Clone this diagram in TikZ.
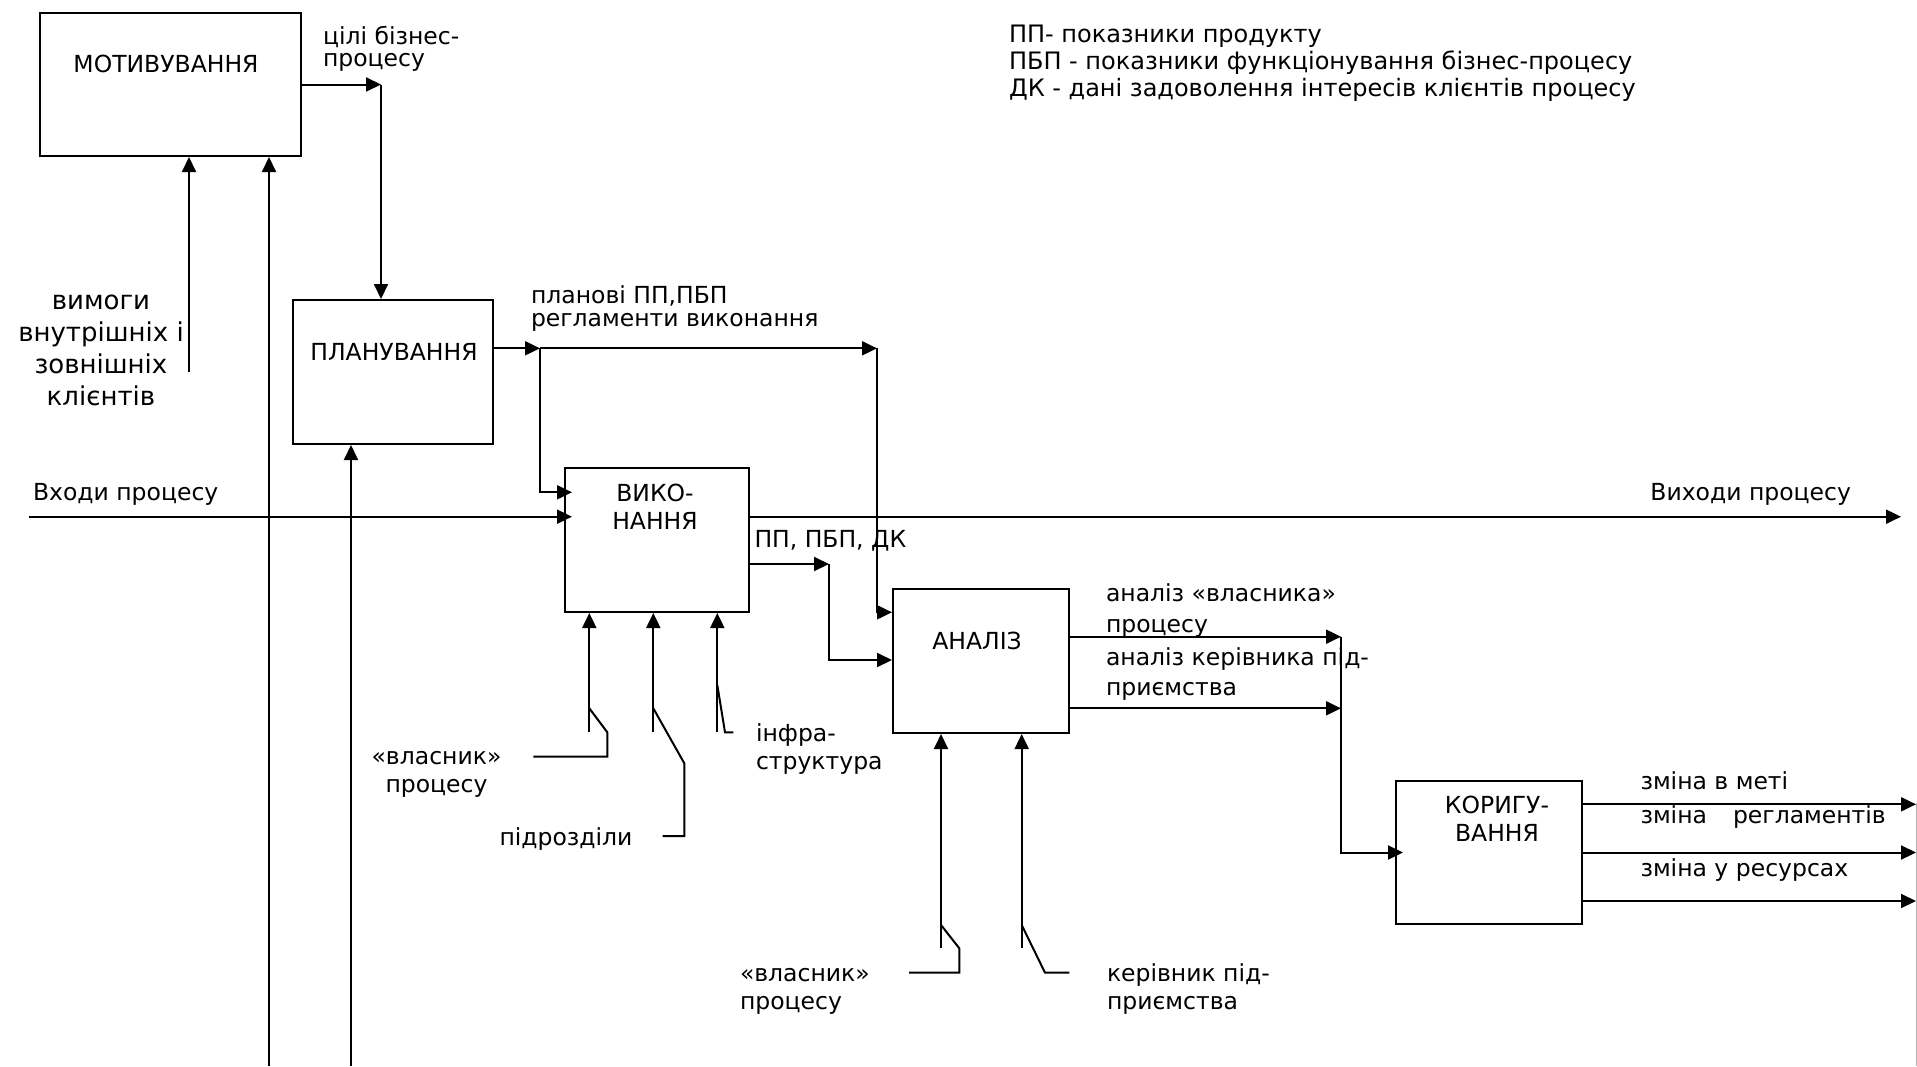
\documentclass[tikz,border=0pt]{standalone}
\usepackage{fontspec}
\setmainfont{DejaVu Sans}
\usetikzlibrary{arrows.meta,positioning}

\begin{document}
\begin{tikzpicture}[x=0.5pt,y=-0.5pt,line width=1pt,
  every node/.style={font=\fontsize{11.75pt}{14pt}\selectfont,inner sep=0pt},
  box/.style={draw,line width=1pt,minimum height=72pt},
  arr/.style={-{Triangle[length=7.5pt,width=7pt]}},
  into/.style={shorten >=-4pt}]
\useasboundingbox (0,0) rectangle (1917,1066);

\node[box,minimum width=130.5pt,minimum height=71.5pt] (motiv) at (170.5,84.5) {};
\node[box,minimum width=100pt] (plan) at (393,372) {};
\node[box,minimum width=92pt] (vyko) at (657,540) {};
\node[box,minimum width=88pt] (analiz) at (981,661) {};
\node[box,minimum width=93pt,minimum height=71.5pt] (korig) at (1489,852.5) {};

\node (motivtxt) at (166,64) {МОТИВУВАННЯ};
\node (plantxt) at (394,352) {ПЛАНУВАННЯ};
\node[align=center] (vykotxt) at (655,507) {ВИКО-\\НАННЯ};
\node (analiztxt) at (977,641) {АНАЛІЗ};
\node[align=center] (korigtxt) at (1497,819) {КОРИГУ-\\ВАННЯ};

\node[anchor=west,align=left,font=\fontsize{12pt}{13.5pt}\selectfont] (legend) at (1008,63.5) {ПП- показники продукту\\ПБП - показники функціонування бізнес-процесу\\ДК - дані задоволення інтересів клієнтів процесу};
\node[anchor=west,align=left] (goals) at (322,49) {цілі бізнес-\\[-3pt]процесу};
\node[align=center,font=\fontsize{13pt}{16pt}\selectfont] (req) at (101,350) {вимоги\\внутрішніх і\\зовнішніх\\клієнтів};
\node[anchor=west,align=left] (plans) at (530,309) {планові ПП,ПБП\\[-2.5pt]регламенти виконання};
\node[anchor=west] (inputs) at (32,494) {Входи процесу};
\node[anchor=east] (outputs) at (1852,494) {Виходи процесу};
\node[anchor=west] (kpi) at (753.5,540.5) {ПП, ПБП, ДК};
\node[align=center] (owner) at (436.5,774) {«власник»\\процесу};
\node[anchor=east] (units) at (633.5,839) {підрозділи};
\node[anchor=west,align=left] (infra) at (755,749) {інфра-\\структура};
\node[anchor=west,align=left] (anowner) at (1105,610.5) {аналіз «власника»\\[1.5pt]процесу};
\node[anchor=west,align=left] (anhead) at (1105,674.5) {аналіз керівника під-\\[1pt]приємства};
\node[anchor=west,align=left] (owner2) at (739,991) {«власник»\\процесу};
\node[anchor=west,align=left] (head) at (1106,989.5) {керівник під-\\приємства};
\node[anchor=west] (chgoal) at (1639.5,780.5) {зміна в меті};
\node[anchor=west] (chrules) at (1639.5,817) {зміна\hspace{13pt}регламентів};
\node[anchor=west] (chres) at (1639.5,870) {зміна у ресурсах};

\coordinate (g1) at (381,84.5);
\coordinate (r1) at (189,372);
\coordinate (fb1) at (269,1066);
\coordinate (fb2) at (351,1066);
\coordinate (p1) at (540,348.3);
\coordinate (p2) at (877,348.3);
\coordinate (in) at (29,516.7);
\coordinate (out) at (1901,516.7);
\coordinate (v1) at (829,564);
\coordinate (a1) at (1341,636.7);
\coordinate (a2) at (1341,708.3);
\coordinate (k1) at (1916,804.3);
\coordinate (k2) at (1916,852.5);
\coordinate (k3) at (1916,901);
\coordinate (c1) at (589.3,732.3);
\coordinate (c2) at (653.3,732.3);
\coordinate (c3) at (717.3,732.3);
\coordinate (c4) at (941,948.3);
\coordinate (c5) at (1021.7,948.3);
\coordinate (edge) at (1916.5,803);

\draw[arr] (motiv.east) -- (g1);
\draw[arr] (g1) -- (g1 |- plan.north);
\draw[arr] (r1) -- (r1 |- motiv.south);
\draw[arr] (fb1) -- (fb1 |- motiv.south);
\draw[arr] (fb2) -- (fb2 |- plan.south);

\draw[arr] (plan.east |- p1) -- (p1);
\draw[arr] (p1) -- (p2);
\draw[arr,into] (p1) |- (vyko.west |- 0,492.3);
\draw[arr] (p2) |- (analiz.west |- 0,612.3);

\draw[arr,into] (in) -- (in -| vyko.west);
\draw[arr] (vyko.east |- out) -- (out);
\draw[arr] (vyko.east |- v1) -- (v1);
\draw[arr] (v1) |- (analiz.west |- 0,660);

\draw[arr] (analiz.east |- a1) -- (a1);
\draw[arr] (analiz.east |- a2) -- (a2);
\draw[arr,into] (a1) |- (korig.west);

\draw[arr] (korig.east |- k1) -- (k1);
\draw[arr] (korig.east |- k2) -- (k2);
\draw[arr] (korig.east |- k3) -- (k3);
\draw[gray!60,line width=0.6pt] (edge) -- (edge |- 0,1066);

\draw[arr] (c1) -- (c1 |- vyko.south);
\draw (c1) ++(0,-24) -- ++(18,24) -- ++(0,24.4) -- ++(-74,0);
\draw[arr] (c2) -- (c2 |- vyko.south);
\draw (c2) ++(0,-24) -- ++(31,55) -- ++(0,72.7) -- ++(-21.6,0);
\draw[arr] (c3) -- (c3 |- vyko.south);
\draw (c3) ++(0,-47.3) -- ++(7.7,47.3) -- ++(8.3,0);

\draw[arr] (c4) -- (c4 |- analiz.south);
\draw (c4) ++(0,-23.3) -- ++(18.3,23.3) -- ++(0,24.4) -- ++(-50.3,0);
\draw[arr] (c5) -- (c5 |- analiz.south);
\draw (c5) ++(0,-23.3) -- ++(23.3,47.7) -- ++(24.3,0);
\end{tikzpicture}
\end{document}
